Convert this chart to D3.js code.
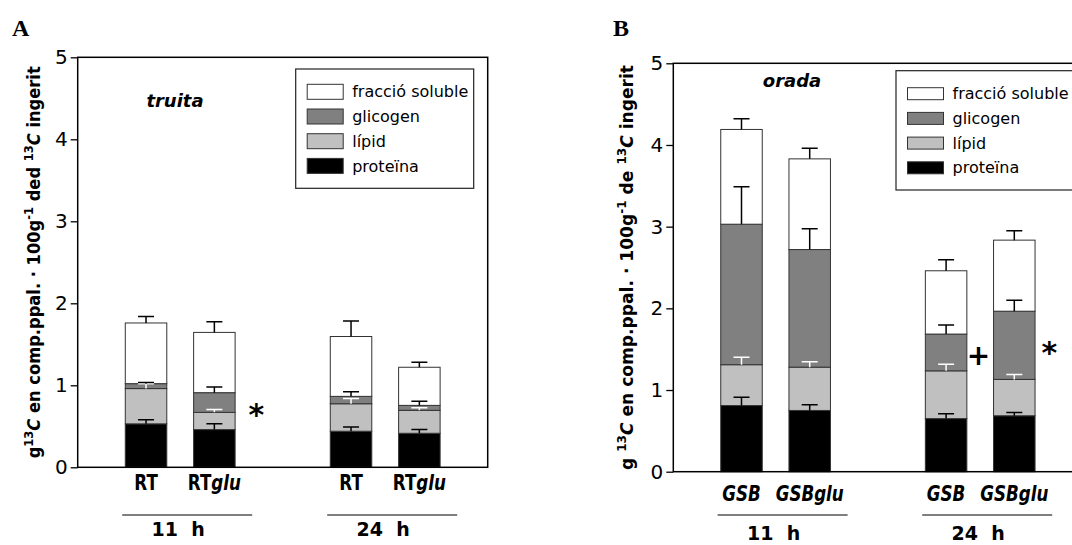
<!DOCTYPE html>
<html>
<head>
<meta charset="utf-8">
<script src="https://cdn.jsdelivr.net/npm/d3@7"></script>
<style>
  body { margin: 0; background: #fff; }
  svg { display: block; }
  text { font-family: "DejaVu Sans", sans-serif; fill: #000; }
</style>
</head>
<body>
<svg id="chart" width="1072" height="545"></svg>
<script>
// stack order, bottom to top
const fractions = ["proteïna", "lípid", "glicogen", "fracció soluble"];
const barSlots = [0, 1, 3, 4];      // slot 2 is the gap between 11 h and 24 h
const timeGroups = ["11 h", "24 h"];
const yTicks = [0, 1, 2, 3, 4, 5];

// A - truita
const labelsA = ["RT", "RTglu", "RT", "RTglu"];
const proteinA = [0.53, 0.46, 0.44, 0.415];
const lipidA = [0.43, 0.21, 0.335, 0.28];
const glycogenA = [0.06, 0.24, 0.09, 0.06];
const solubleA = [0.74, 0.735, 0.73, 0.465];
const proteinErrA = [0.05, 0.07, 0.05, 0.045];
const lipidErrA = [0.06, 0.035, 0.065, 0.03];
const glycogenErrA = [0.015, 0.07, 0.055, 0.05];
const solubleErrA = [0.08, 0.13, 0.19, 0.06];

// B - orada
const labelsB = ["GSB", "GSBglu", "GSB", "GSBglu"];
const proteinB = [0.81, 0.75, 0.65, 0.685];
const lipidB = [0.50, 0.53, 0.585, 0.445];
const glycogenB = [1.72, 1.44, 0.45, 0.835];
const solubleB = [1.16, 1.11, 0.775, 0.87];
const proteinErrB = [0.10, 0.07, 0.06, 0.04];
const lipidErrB = [0.09, 0.065, 0.08, 0.06];
const glycogenErrB = [0.46, 0.255, 0.11, 0.135];
const solubleErrB = [0.13, 0.13, 0.135, 0.115];

const fillColor = {
  "proteïna": "#000000",
  "lípid": "#c0c0c0",
  "glicogen": "#808080",
  "fracció soluble": "#ffffff"
};

const svg = d3.select("#chart");

function drawPanel(p) {
  const x = d3.scalePoint().domain(d3.range(5)).range([p.left, p.right]).padding(1);
  const y = d3.scaleLinear().domain([0, 5]).range([p.bottom, p.top]);
  const bw = 41.5;
  const g = svg.append("g");

  const rows = p.labels.map((lab, i) => {
    const r = { slot: barSlots[i] };
    fractions.forEach((f, k) => r[f] = p.values[k][i]);
    return r;
  });
  const layers = d3.stack().keys(fractions)(rows);

  // bars
  g.selectAll(".layer")
    .data(layers)
    .join("g")
    .attr("fill", d => fillColor[d.key])
    .selectAll("rect")
    .data(d => d)
    .join("rect")
    .attr("x", d => x(d.data.slot) - bw / 2)
    .attr("y", d => y(d[1]))
    .attr("width", bw)
    .attr("height", d => y(d[0]) - y(d[1]))
    .attr("stroke", "#333")
    .attr("stroke-width", 1);

  // error bars, upward only; white on the lipid layer
  layers.forEach((layer, k) => {
    g.append("g")
      .attr("stroke", fractions[k] === "lípid" ? "#fff" : "#000")
      .attr("stroke-width", 1.5)
      .attr("fill", "none")
      .selectAll("path")
      .data(layer)
      .join("path")
      .attr("d", (d, i) => {
        const cx = x(d.data.slot);
        const y0 = y(d[1]);
        const y1 = y(d[1] + p.errors[k][i]);
        return `M${cx},${y0}V${y1}M${cx - 8},${y1}H${cx + 8}`;
      });
  });

  // frame
  g.append("rect")
    .attr("x", p.left).attr("y", p.top)
    .attr("width", p.right - p.left).attr("height", p.bottom - p.top)
    .attr("fill", "none").attr("stroke", "#000").attr("stroke-width", 1.5);

  // y axis
  const ax = g.append("g")
    .attr("transform", `translate(${p.left},0)`)
    .call(d3.axisLeft(y).tickValues(yTicks).tickSize(7).tickPadding(3).tickFormat(d3.format("d")));
  ax.select(".domain").remove();
  ax.selectAll("line").attr("stroke", "#000").attr("stroke-width", 1.3);
  ax.selectAll("text").attr("font-size", 20).style("font-family", "'DejaVu Sans', sans-serif").attr("fill", "#000");

  // y title
  const yt = g.append("text")
    .attr("transform", `translate(${p.titleX},${(p.top + p.bottom) / 2}) rotate(-90)`)
    .attr("text-anchor", "middle")
    .attr("font-size", 17)
    .attr("font-weight", "bold");
  p.yTitle.forEach(part => {
    yt.append("tspan")
      .attr("dy", part.sup ? -7 : (part.after ? 7 : 0))
      .attr("font-size", part.sup ? 12 : 17)
      .attr("font-style", part.italic ? "italic" : null)
      .text(part.t);
  });
  yt.attr("textLength", p.titleLen).attr("lengthAdjust", "spacingAndGlyphs");

  // bar labels (lettering is narrow in the original, so squeeze horizontally)
  const bl = g.selectAll(".barlabel")
    .data(p.labels)
    .join("g")
    .attr("transform", (d, i) => `translate(${x(barSlots[i])},${p.labelY}) scale(0.76,1)`)
    .append("text")
    .attr("text-anchor", "middle")
    .attr("font-size", 22)
    .attr("font-weight", "bold")
    .attr("font-style", p.italicLabels ? "italic" : null);
  bl.each(function (d) {
    const t = d3.select(this);
    const m = d.match(/^(.*?)(glu)?$/);
    t.append("tspan").text(m[1]);
    if (m[2]) t.append("tspan").attr("font-style", "italic").text(m[2]);
  });

  // time groups
  timeGroups.forEach((tg, j) => {
    const mid = (x(barSlots[2 * j]) + x(barSlots[2 * j + 1])) / 2;
    g.append("line")
      .attr("x1", mid - 58).attr("x2", mid + 72)
      .attr("y1", 515).attr("y2", 515)
      .attr("stroke", "#555").attr("stroke-width", 1.3);
    g.append("text")
      .attr("x", mid - 2).attr("y", p.groupY)
      .attr("text-anchor", "middle")
      .attr("font-size", 19).attr("font-weight", "bold")
      .style("white-space", "pre")
      .text(tg.replace(" ", "  "));
  });

  // annotations
  p.notes.forEach(n => {
    g.append("text")
      .attr("x", x(barSlots[n.bar]) + n.dx)
      .attr("y", y(n.value))
      .attr("text-anchor", "middle")
      .attr("font-size", n.t === "*" ? 30 : 28)
      .attr("font-weight", "bold")
      .attr("dy", n.t === "*" ? "0.6em" : "0.35em")
      .text(n.t);
  });

  // species name
  g.append("text")
    .attr("x", p.speciesX).attr("y", p.speciesY)
    .attr("text-anchor", "middle")
    .attr("font-size", 18).attr("font-weight", "bold").attr("font-style", "italic")
    .text(p.species);

  // legend
  const L = p.legend;
  g.append("rect")
    .attr("x", L.x).attr("y", L.y).attr("width", L.w).attr("height", L.h)
    .attr("fill", "#fff").attr("stroke", "#222").attr("stroke-width", 1.2);
  const rowsL = fractions.slice().reverse();
  const li = g.selectAll(".leg")
    .data(rowsL)
    .join("g")
    .attr("transform", (d, i) => `translate(${L.x + 11.5},${L.rowY + i * 24.7})`);
  li.append("rect")
    .attr("width", 36).attr("height", L.sh)
    .attr("fill", d => fillColor[d]).attr("stroke", "#333").attr("stroke-width", 1);
  li.append("text")
    .attr("x", 45).attr("y", L.sh / 2).attr("dy", "0.35em")
    .attr("font-size", 16)
    .text(d => d);

  // panel letter
  g.append("text")
    .attr("x", p.letterX).attr("y", 36)
    .style("font-family", "'Liberation Serif', 'Times New Roman', serif")
    .attr("font-size", 24).attr("font-weight", "bold")
    .text(p.letter);
}

drawPanel({
  letter: "A", letterX: 12,
  left: 77.7, right: 487.7, top: 57.3, bottom: 467.3,
  labels: labelsA,
  values: [proteinA, lipidA, glycogenA, solubleA],
  errors: [proteinErrA, lipidErrA, glycogenErrA, solubleErrA],
  labelY: 490, groupY: 536, italicLabels: false,
  titleX: 40, titleLen: 392,
  yTitle: [
    { t: "g" }, { t: "13", sup: true }, { t: "C", italic: true, after: true },
    { t: " en comp.ppal. · 100g" }, { t: "-1", sup: true }, { t: " ded ", after: true },
    { t: "13", sup: true }, { t: "C", italic: true, after: true }, { t: " ingerit" }
  ],
  species: "truita", speciesX: 175, speciesY: 107,
  notes: [{ bar: 1, dx: 42, value: 0.74, t: "*" }],
  legend: { x: 295.7, y: 69, w: 178, h: 119.3, rowY: 84.3, sh: 15 }
});

drawPanel({
  letter: "B", letterX: 613,
  left: 673.3, right: 1082.5, top: 63.3, bottom: 471.7,
  labels: labelsB,
  values: [proteinB, lipidB, glycogenB, solubleB],
  errors: [proteinErrB, lipidErrB, glycogenErrB, solubleErrB],
  labelY: 501, groupY: 540, italicLabels: true,
  titleX: 633, titleLen: 405,
  yTitle: [
    { t: "g " }, { t: "13", sup: true }, { t: "C", italic: true, after: true },
    { t: " en comp.ppal. ·  100g" }, { t: "-1", sup: true }, { t: "  de ", after: true },
    { t: "13", sup: true }, { t: "C", italic: true, after: true }, { t: " ingerit" }
  ],
  species: "orada", speciesX: 792, speciesY: 87,
  notes: [
    { bar: 2, dx: 32.5, value: 1.43, t: "+" },
    { bar: 3, dx: 35, value: 1.55, t: "*" }
  ],
  legend: { x: 896, y: 70.7, w: 190, h: 119.3, rowY: 87.7, sh: 12 }
});
</script>
</body>
</html>
